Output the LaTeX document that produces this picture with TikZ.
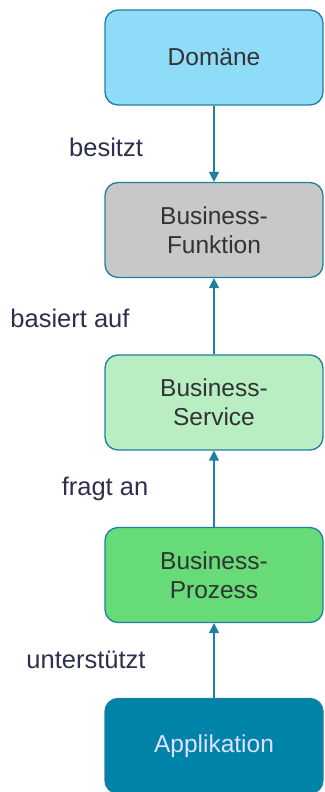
\documentclass[tikz,border=0pt]{standalone}
\usepackage{fontspec}
\setmainfont{Liberation Sans}
\usetikzlibrary{arrows.meta}
\definecolor{edge}{HTML}{1E7FA0}
\definecolor{domfill}{HTML}{8FDCF8}
\definecolor{funfill}{HTML}{C8C8C8}
\definecolor{serfill}{HTML}{B8EEC2}
\definecolor{profill}{HTML}{66DB78}
\definecolor{appfill}{HTML}{0083A8}
\definecolor{txt}{HTML}{333333}
\definecolor{lbl}{HTML}{2E2E4E}
\tikzset{
  box/.style={draw=edge, line width=1.3pt, rounded corners=13pt, minimum width=218pt, minimum height=95pt, align=center, font=\fontsize{24.5}{29}\selectfont, text=txt, inner sep=0pt},
  conn/.style={draw=edge, line width=1.5pt, -{Triangle[length=10pt,width=10pt]}},
  lab/.style={font=\fontsize{25.5}{28}\selectfont, text=lbl, inner sep=0pt}
}
\begin{document}
\begin{tikzpicture}[x=1pt,y=1pt]
\useasboundingbox (0,0) rectangle (324,792);
\node[box, fill=domfill] (dom) at (214,734.5) {Domäne};
\node[box, fill=funfill] (fun) at (214,562) {Business-\\Funktion};
\node[box, fill=serfill] (ser) at (214,389.5) {Business-\\Service};
\node[box, fill=profill] (pro) at (214,217) {Business-\\Prozess};
\node[box, fill=appfill, text=white!88!blue] (app) at (214,46) {Applikation};
\draw[conn] (dom) -- (fun);
\draw[conn] (ser) -- (fun);
\draw[conn] (pro) -- (ser);
\draw[conn] (app) -- (pro);
\node[lab] (l1) at (106,645) {besitzt};
\node[lab] (l2) at (70,474) {basiert auf};
\node[lab] (l3) at (105,303) {fragt an};
\node[lab] (l4) at (86,132) {unterstützt};
\end{tikzpicture}
\end{document}
